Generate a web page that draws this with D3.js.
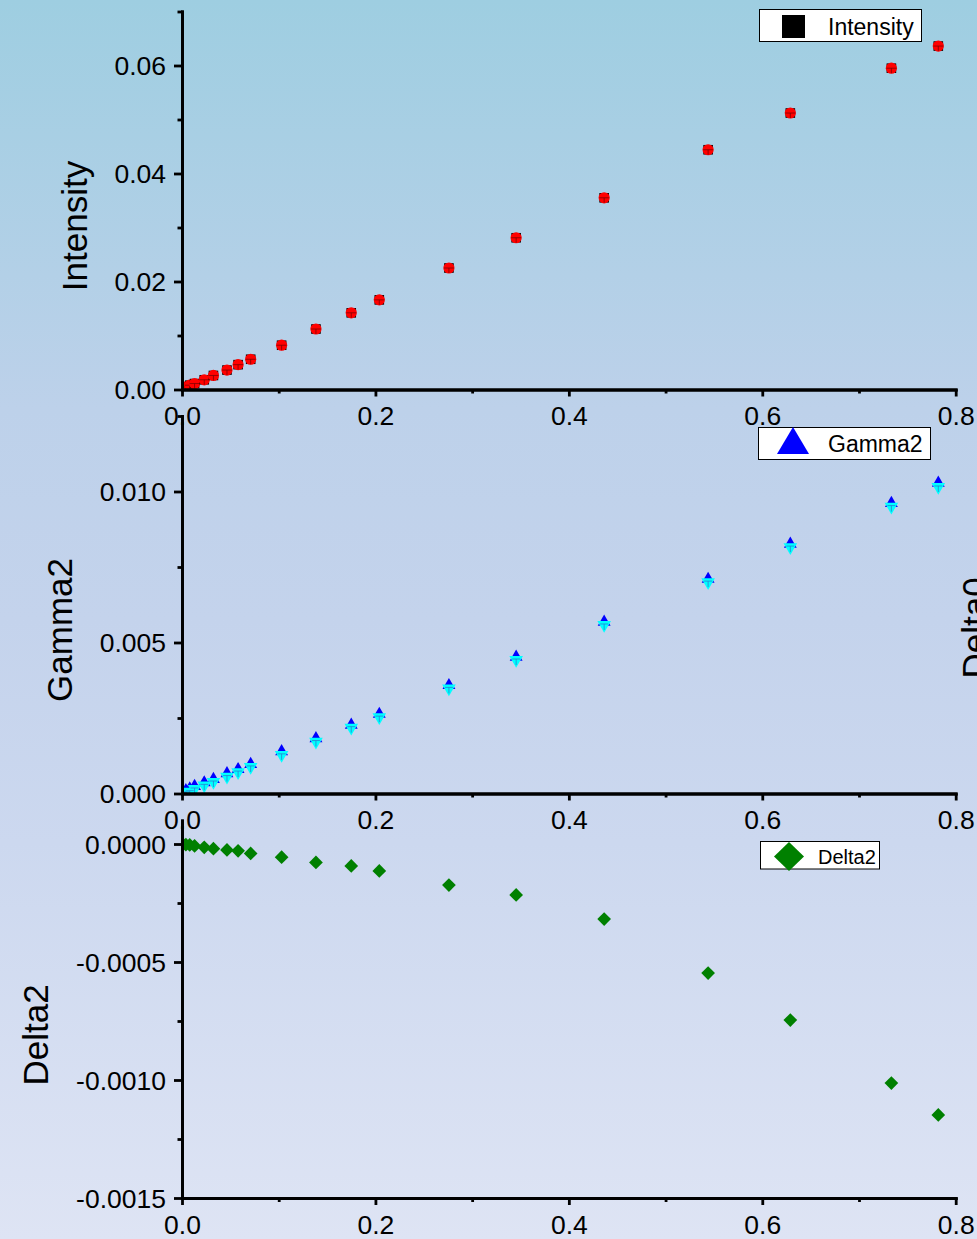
<!DOCTYPE html>
<html>
<head>
<meta charset="utf-8">
<script src="https://cdn.jsdelivr.net/npm/d3@7"></script>
<style>
    body { margin: 0; }
    svg text { font-family: "Liberation Sans", Arial, sans-serif; fill: #000; }
</style>
</head>
<body>
<div id="chart"></div>
<script>

// Data
const xValues = [0.001, 0.004, 0.008, 0.013, 0.023, 0.0325, 0.0465, 0.058, 0.071, 0.103,
    0.1385, 0.175, 0.204, 0.276, 0.3455, 0.4365, 0.544, 0.629, 0.7335, 0.782];

const intensity = [0.0002, 0.0005, 0.0008, 0.0011, 0.0018, 0.0026, 0.0036, 0.0046, 0.0056, 0.0082,
    0.0112, 0.0142, 0.0166, 0.0225, 0.0281, 0.0355, 0.0444, 0.0512, 0.0595, 0.0636];

const gamma2 = [0.00005, 0.00010, 0.00016, 0.00024, 0.00036, 0.00047, 0.00066, 0.00080, 0.00097, 0.00139,
    0.00182, 0.00227, 0.00263, 0.00358, 0.00452, 0.00568, 0.00710, 0.00826, 0.00961, 0.01028];

const gamma2Cyan = [0.00000, 0.00002, 0.00006, 0.00015, 0.00027, 0.00038, 0.00056, 0.00071, 0.00088, 0.00128,
    0.00172, 0.00218, 0.00253, 0.00348, 0.00442, 0.00558, 0.00700, 0.00816, 0.00950, 0.01015];

const delta2 = [-0.000001, -0.000003, -0.000004, -0.000008, -0.000014, -0.00002, -0.000025, -0.000029, -0.00004, -0.000056,
    -0.000078, -0.000093, -0.000114, -0.000174, -0.000216, -0.000318, -0.000547, -0.000746, -0.001013, -0.001148];

// Ticks and labels
const xTicks = [0, 0.2, 0.4, 0.6, 0.8];
const xTickLabels = ["0.0", "0.2", "0.4", "0.6", "0.8"];
const xMinorTicks = [0.1, 0.3, 0.5, 0.7];

const intensityTicks = [0, 0.02, 0.04, 0.06];
const intensityLabels = ["0.00", "0.02", "0.04", "0.06"];
const intensityMinor = [0.01, 0.03, 0.05, 0.07];

const gammaTicks = [0, 0.005, 0.01];
const gammaLabels = ["0.000", "0.005", "0.010"];
const gammaMinor = [0.0025, 0.0075, 0.0125];

const deltaTicks = [0, -0.0005, -0.001, -0.0015];
const deltaLabels = ["0.0000", "-0.0005", "-0.0010", "-0.0015"];
const deltaMinor = [-0.00025, -0.00075, -0.00125];

const W = 977, H = 1239;

const svg = d3.select("#chart").append("svg")
    .attr("width", W)
    .attr("height", H);

// Background gradient
const defs = svg.append("defs");
const grad = defs.append("linearGradient")
    .attr("id", "bg")
    .attr("x1", 0).attr("y1", 0).attr("x2", 0).attr("y2", 1);
[["0%", "#9ecee1"], ["33%", "#bdd1ea"], ["50%", "#c4d3ec"], ["68%", "#ccd8ef"], ["100%", "#dee4f4"]]
    .forEach(s => grad.append("stop").attr("offset", s[0]).attr("stop-color", s[1]));

svg.append("rect")
    .attr("width", W)
    .attr("height", H)
    .attr("fill", "url(#bg)");

// Shared x scale
const x = d3.scaleLinear().domain([0, 0.8]).range([182, 955.7]);

/*
 * Draw one stacked panel: axes, ticks, title and clip area
 */
function drawPanel(cfg) {
    const y = d3.scaleLinear().domain(cfg.domain).range([cfg.bottom, cfg.top]);
    const g = svg.append("g");

    defs.append("clipPath").attr("id", cfg.id)
        .append("rect")
        .attr("x", 182).attr("y", cfg.top)
        .attr("width", 955.7 - 182).attr("height", cfg.bottom - cfg.top);

    // Points layer goes first so the axes sit on top
    const plot = g.append("g").attr("clip-path", "url(#" + cfg.id + ")");

    // x axis (major + minor)
    g.append("g")
        .attr("transform", "translate(0," + cfg.bottom + ")")
        .call(d3.axisBottom(x).tickValues(xTicks).tickSize(7).tickSizeOuter(0).tickPadding(10)
            .tickFormat((d, i) => xTickLabels[i]));
    g.append("g")
        .attr("transform", "translate(0," + cfg.bottom + ")")
        .call(d3.axisBottom(x).tickValues(xMinorTicks).tickSize(4).tickSizeOuter(0).tickFormat(""));

    // y axis (major + minor)
    const yAxis = g.append("g")
        .attr("transform", "translate(182,0)")
        .call(d3.axisLeft(y).tickValues(cfg.ticks).tickSize(8).tickSizeOuter(0).tickPadding(8)
            .tickFormat((d, i) => cfg.labels[i]));
    g.append("g")
        .attr("transform", "translate(182,0)")
        .call(d3.axisLeft(y).tickValues(cfg.minor).tickSize(4.5).tickSizeOuter(0).tickFormat(""));

    g.selectAll(".domain, .tick line")
        .attr("stroke", "#000")
        .attr("stroke-width", 2.8);
    g.selectAll(".domain").attr("stroke-linecap", "square");
    g.selectAll("text")
        .attr("font-size", 26.5)
        .attr("font-family", "Liberation Sans, Arial, sans-serif")
        .attr("fill", "#000");
    yAxis.selectAll("text").attr("dy", "0.35em");

    // Axis title
    svg.append("text")
        .attr("transform", "translate(" + cfg.titleX + "," + cfg.titleY + ") rotate(-90)")
        .attr("text-anchor", "middle")
        .attr("font-size", 35)
        .text(cfg.title);

    return { y: y, plot: plot };
}

// Panel 1: Intensity
const p1 = drawPanel({
    id: "clip1", top: 11.5, bottom: 389.5, domain: [0, 0.07],
    ticks: intensityTicks, labels: intensityLabels, minor: intensityMinor,
    title: "Intensity", titleX: 87, titleY: 226
});

const pts1 = p1.plot.selectAll(".intPt")
    .data(xValues)
    .join("g")
    .attr("class", "intPt")
    .attr("transform", (d, i) => "translate(" + x(d) + "," + p1.y(intensity[i]) + ")");
pts1.append("rect")
    .attr("x", -4.8).attr("y", -4.8).attr("width", 9.6).attr("height", 9.6)
    .attr("fill", "#000");
pts1.append("circle")
    .attr("r", 5.6)
    .attr("fill", "#ff0000");
pts1.append("path")
    .attr("d", "M-5,0H5M0,0V5")
    .attr("stroke", "#800000")
    .attr("stroke-width", 0.8)
    .attr("fill", "none");

// Panel 2: Gamma2
const p2 = drawPanel({
    id: "clip2", top: 416, bottom: 793.5, domain: [0, 0.0125],
    ticks: gammaTicks, labels: gammaLabels, minor: gammaMinor,
    title: "Gamma2", titleX: 72, titleY: 630
});

p2.plot.selectAll(".gamUp")
    .data(xValues)
    .join("path")
    .attr("class", "gamUp")
    .attr("d", d3.symbol(d3.symbolTriangle, 72))
    .attr("transform", (d, i) => "translate(" + x(d) + "," + p2.y(gamma2[i]) + ")")
    .attr("fill", "#0000ff");

p2.plot.selectAll(".gamDown")
    .data(xValues)
    .join("path")
    .attr("class", "gamDown")
    .attr("d", d3.symbol(d3.symbolTriangle, 80))
    .attr("transform", (d, i) => "translate(" + x(d) + "," + p2.y(gamma2Cyan[i]) + ") rotate(180)")
    .attr("fill", "#00ffff");

p2.plot.selectAll(".gamTick")
    .data(xValues)
    .join("path")
    .attr("class", "gamTick")
    .attr("d", "M-4,-1H4M0,-1V5")
    .attr("transform", (d, i) => "translate(" + x(d) + "," + p2.y(gamma2Cyan[i]) + ")")
    .attr("stroke", "#2a7fd0")
    .attr("stroke-width", 0.8)
    .attr("fill", "none");

// Panel 3: Delta2
const p3 = drawPanel({
    id: "clip3", top: 820.4, bottom: 1198, domain: [-0.0015, 0.0001],
    ticks: deltaTicks, labels: deltaLabels, minor: deltaMinor,
    title: "Delta2", titleX: 48, titleY: 1035
});

p3.plot.selectAll(".delPt")
    .data(xValues)
    .join("path")
    .attr("class", "delPt")
    .attr("d", d3.symbol(d3.symbolSquare, 94))
    .attr("transform", (d, i) => "translate(" + x(d) + "," + p3.y(delta2[i]) + ") rotate(45)")
    .attr("fill", "#008000");

// Cut-off title of a fourth panel at the right edge (as in the reference)
svg.append("text")
    .attr("transform", "translate(987,628) rotate(-90)")
    .attr("text-anchor", "middle")
    .attr("font-size", 35)
    .text("Delta0");

// Legends
const leg1 = svg.append("g");
leg1.append("rect")
    .attr("x", 759.5).attr("y", 9.5).attr("width", 162).attr("height", 32)
    .attr("fill", "#fff").attr("stroke", "#000").attr("stroke-width", 1);
leg1.append("rect")
    .attr("x", 782).attr("y", 15).attr("width", 23).attr("height", 23)
    .attr("fill", "#000");
leg1.append("text")
    .attr("x", 828).attr("y", 34.5)
    .attr("font-size", 23)
    .text("Intensity");

const leg2 = svg.append("g");
leg2.append("rect")
    .attr("x", 758.5).attr("y", 427.5).attr("width", 172).attr("height", 32)
    .attr("fill", "#fff").attr("stroke", "#000").attr("stroke-width", 1);
leg2.append("path")
    .attr("d", "M793,427L809,454L777,454Z")
    .attr("fill", "#0000ff");
leg2.append("text")
    .attr("x", 828).attr("y", 451.5)
    .attr("font-size", 23)
    .text("Gamma2");

const leg3 = svg.append("g");
leg3.append("rect")
    .attr("x", 760.5).attr("y", 841.5).attr("width", 119).attr("height", 27.5)
    .attr("fill", "#fff").attr("stroke", "#000").attr("stroke-width", 1);
leg3.append("path")
    .attr("d", "M789,842L804,856.5L789,871L774,856.5Z")
    .attr("fill", "#008000");
leg3.append("text")
    .attr("x", 818).attr("y", 863.5)
    .attr("font-size", 20)
    .text("Delta2");

</script>
</body>
</html>
